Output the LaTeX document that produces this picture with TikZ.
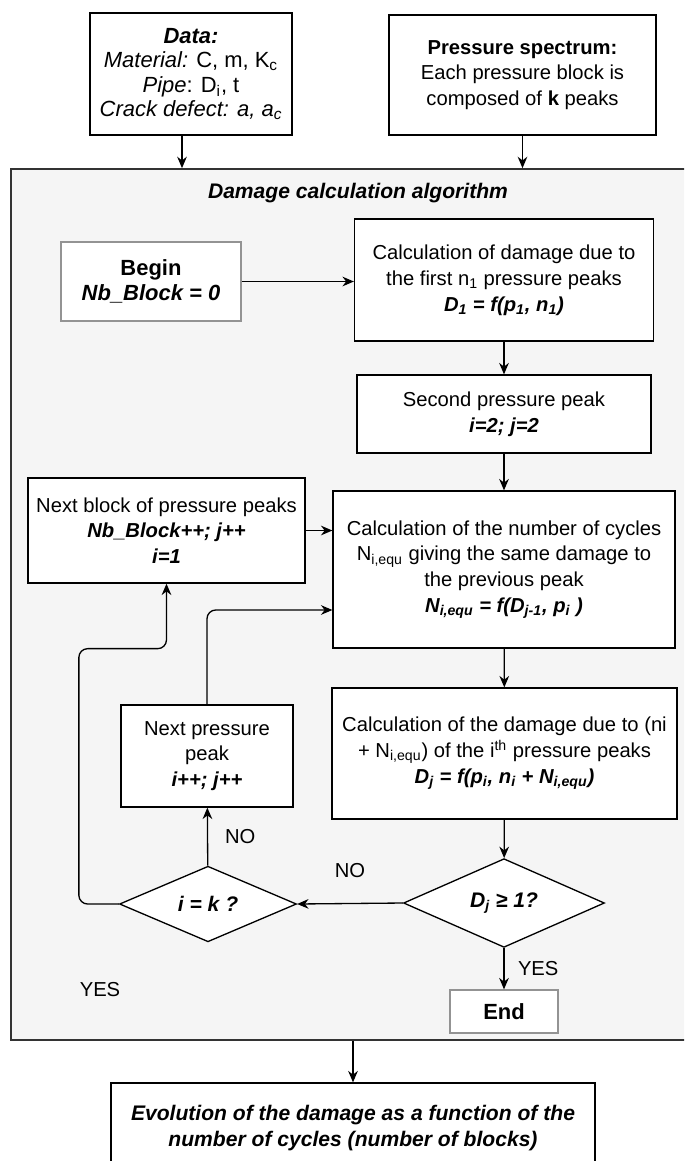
\documentclass[tikz,border=0pt]{standalone}
\usepackage{fontspec}
\setmainfont{Liberation Sans}
\usetikzlibrary{shapes.geometric}
\usetikzlibrary{arrows.meta}
\usetikzlibrary{calc}

\tikzset{
    box/.style={draw, fill=white, line width=0.75pt, align=center, inner sep=2pt, font=\fontsize{11.5}{14.7}\selectfont},
    greybox/.style={box, draw=gray!85, font=\fontsize{12.5}{14.5}\selectfont\bfseries},
    test/.style={diamond, draw, fill=white, line width=0.75pt, inner sep=0pt, font=\fontsize{12}{14}\selectfont\bfseries\itshape},
    arr/.style={-{Stealth[length=6.5pt,width=5.5pt]}, line width=0.75pt},
    lbl/.style={font=\fontsize{11.5}{14}\selectfont}
}

\begin{document}
\begin{tikzpicture}[x=0.02cm,y=-0.02cm]
    \path[use as bounding box] (0,0) rectangle (684,1161);
    \clip (0,0) rectangle (684,1161);
    \fill[white] (0,0) rectangle (684,1161);

    \node[box, minimum width=4.04cm, minimum height=2.44cm, font=\fontsize{12.5}{14}\selectfont] (data) at (191,74) {\textbf{\textit{Data:}}\\ \textit{Material:} C, m, K\textsubscript{c}\\ \textit{Pipe}: D\textsubscript{i}, t\\ \textit{Crack defect: a, a\textsubscript{c}}};
    \node[box, minimum width=5.34cm, minimum height=2.4cm] (spec) at (522.5,75) {\textbf{Pressure spectrum:}\\ Each pressure block is\\ composed of \textbf{k} peaks};

    \node[box, minimum width=13.78cm, minimum height=17.42cm, fill=gray!8, draw=black!80, line width=1.1pt] (alg) at (355.5,604.5) {};
    \node[font=\fontsize{12}{14}\selectfont\bfseries\itshape] (title) at (358,193) {Damage calculation algorithm};

    \node[greybox, minimum width=3.6cm, minimum height=1.58cm] (begin) at (151,281.5) {Begin\\ \textit{Nb\_Block = 0}};
    \node[box, minimum width=5.98cm, minimum height=2.44cm] (d1) at (504,280) {Calculation of damage due to\\ the first n\textsubscript{1} pressure peaks\\ \textbf{\textit{D\textsubscript{1} = f(p\textsubscript{1}, n\textsubscript{1})}}};
    \node[box, minimum width=5.88cm, minimum height=1.56cm] (second) at (504,414) {Second pressure peak\\ \textbf{\textit{i=2; j=2}}};
    \node[box, minimum width=5.54cm, minimum height=2.1cm] (nextblock) at (166.5,530.5) {Next block of pressure peaks\\ \textbf{\textit{Nb\_Block++; j++}}\\ \textbf{\textit{i=1}}};
    \node[box, minimum width=6.84cm, minimum height=3.14cm] (ncalc) at (504,569.5) {Calculation of the number of cycles\\ N\textsubscript{i,equ} giving the same damage to\\ the previous peak\\ \textbf{\textit{N\textsubscript{i,equ} = f(D\textsubscript{j-1}, p\textsubscript{i} )}}};
    \node[box, minimum width=3.44cm, minimum height=2.04cm] (nextpeak) at (207,756) {Next pressure\\ peak\\ \textbf{\textit{i++; j++}}};
    \node[box, minimum width=6.9cm, minimum height=2.62cm] (djcalc) at (504.5,753.5) {Calculation of the damage due to (ni\\ + N\textsubscript{i,equ}) of the i\textsuperscript{th} pressure peaks\\ \textbf{\textit{D\textsubscript{j} = f(p\textsubscript{i}, n\textsubscript{i} + N\textsubscript{i,equ})}}};
    \node[test, minimum width=4.02cm, minimum height=1.74cm] (dtest) at (504,903) {D\textsubscript{j} ≥ 1?};
    \node[test, minimum width=3.54cm, minimum height=1.5cm] (ktest) at (208,904) {i = k ?};
    \node[greybox, minimum width=2.16cm, minimum height=0.86cm] (end) at (504,1011.5) {End};
    \node[lbl] (yesleft) at (100,990) {YES};

    \node[box, minimum width=9.68cm, minimum height=1.8cm, font=\fontsize{12}{14.5}\selectfont\bfseries\itshape] (result) at (353,1128) {Evolution of the damage as a function of the\\ number of cycles (number of blocks)};

    \draw[arr] ([xshift=-0.18cm]data.south) -- ([xshift=-0.18cm]data.south |- alg.north);
    \draw[arr] (spec.south) -- (spec.south |- alg.north);
    \draw[arr] (begin.east) -- (begin.east -| d1.west);
    \draw[arr] (d1) -- (second);
    \draw[arr] (second) -- (ncalc);
    \draw[arr] (nextblock.east) -- (nextblock.east -| ncalc.west);
    \draw[arr] (ncalc) -- (djcalc);
    \draw[arr] (djcalc) -- (dtest);
    \draw[arr] (dtest.west) -- node[lbl, midway, above=0.38cm] {NO} (ktest.east);
    \draw[arr] (dtest) -- node[lbl, right=0.15cm] {YES} (end);
    \draw[arr] (ktest) -- node[lbl, right=0.22cm] {NO} (nextpeak);
    \draw[arr, rounded corners=5pt] (nextpeak.north) |- ([yshift=-0.81cm]ncalc.west);
    \draw[arr, rounded corners=5pt] (ktest.west) -- ++(-40,0) |- (nextblock.south |- ncalc.south) -- (nextblock.south);
    \draw[arr] (result.north |- alg.south) -- (result.north);
\end{tikzpicture}
\end{document}
